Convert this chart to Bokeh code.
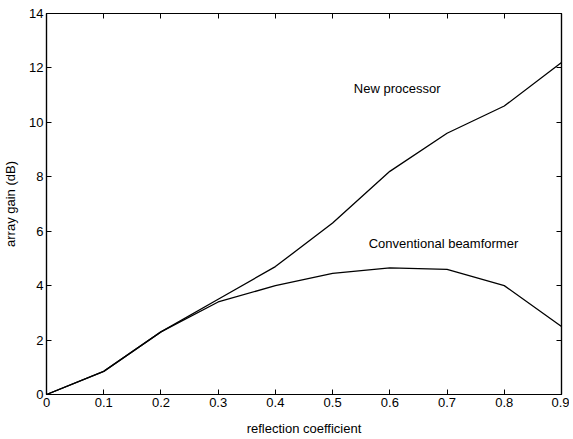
from bokeh.plotting import figure
from bokeh.models import LinearAxis, FixedTicker, Range1d, Label, CustomJSTickFormatter
from bokeh.embed import file_html
from bokeh.resources import INLINE

reflection = [0.0, 0.1, 0.2, 0.3, 0.4, 0.5, 0.6, 0.7, 0.8, 0.9]
new_processor = [0.0, 0.85, 2.3, 3.5, 4.7, 6.3, 8.2, 9.6, 10.6, 12.2]
conventional = [0.0, 0.85, 2.3, 3.4, 4.0, 4.45, 4.65, 4.6, 4.0, 2.5]
x_ticks = [0.0, 0.1, 0.2, 0.3, 0.4, 0.5, 0.6, 0.7, 0.8, 0.9]
y_ticks = [0, 2, 4, 6, 8, 10, 12, 14]

FONT = "Liberation Sans"

p = figure(width=569, height=438, output_backend="svg", toolbar_location=None,
           x_range=Range1d(0, 0.9), y_range=Range1d(0, 14),
           min_border_left=46, min_border_right=8, min_border_top=13, min_border_bottom=44)
p.grid.visible = False
p.outline_line_color = "black"
p.outline_line_width = 1.2
p.background_fill_color = "white"
p.border_fill_color = "white"

def style(ax, ticks, labels=True):
    ax.ticker = FixedTicker(ticks=ticks)
    ax.major_tick_in = 5
    ax.major_tick_out = 0
    ax.minor_tick_line_color = None
    ax.axis_line_color = "black"
    ax.axis_line_width = 1.2
    ax.major_tick_line_color = "black"
    ax.major_label_text_font = FONT
    ax.major_label_text_color = "black"
    ax.major_label_text_font_size = "13px"
    if labels:
        ax.major_label_standoff = 3
    else:
        ax.formatter = CustomJSTickFormatter(code="return ''")
        ax.major_label_standoff = 0

style(p.xaxis[0], x_ticks)
style(p.yaxis[0], y_ticks)
p.xaxis[0].axis_label = "reflection coefficient"
p.yaxis[0].axis_label = "array gain (dB)"
for ax in (p.xaxis[0], p.yaxis[0]):
    ax.axis_label_text_font = FONT
    ax.axis_label_text_font_size = "13px"
    ax.axis_label_text_font_style = "normal"
    ax.axis_label_text_color = "black"
p.xaxis[0].axis_label_standoff = 11
p.yaxis[0].axis_label_standoff = 8

top = LinearAxis()
style(top, x_ticks, labels=False)
p.add_layout(top, "above")
right = LinearAxis()
style(right, y_ticks, labels=False)
p.add_layout(right, "right")

p.line(reflection, new_processor, line_color="black", line_width=1.3)
p.line(reflection, conventional, line_color="black", line_width=1.3)

p.add_layout(Label(x=0.537, y=11.25, text="New processor", text_font=FONT,
                   text_font_size="13px", text_color="black", text_baseline="middle"))
p.add_layout(Label(x=0.563, y=5.55, text="Conventional beamformer", text_font=FONT,
                   text_font_size="13px", text_color="black", text_baseline="middle"))

open("out.html", "w").write(file_html(p, INLINE))
